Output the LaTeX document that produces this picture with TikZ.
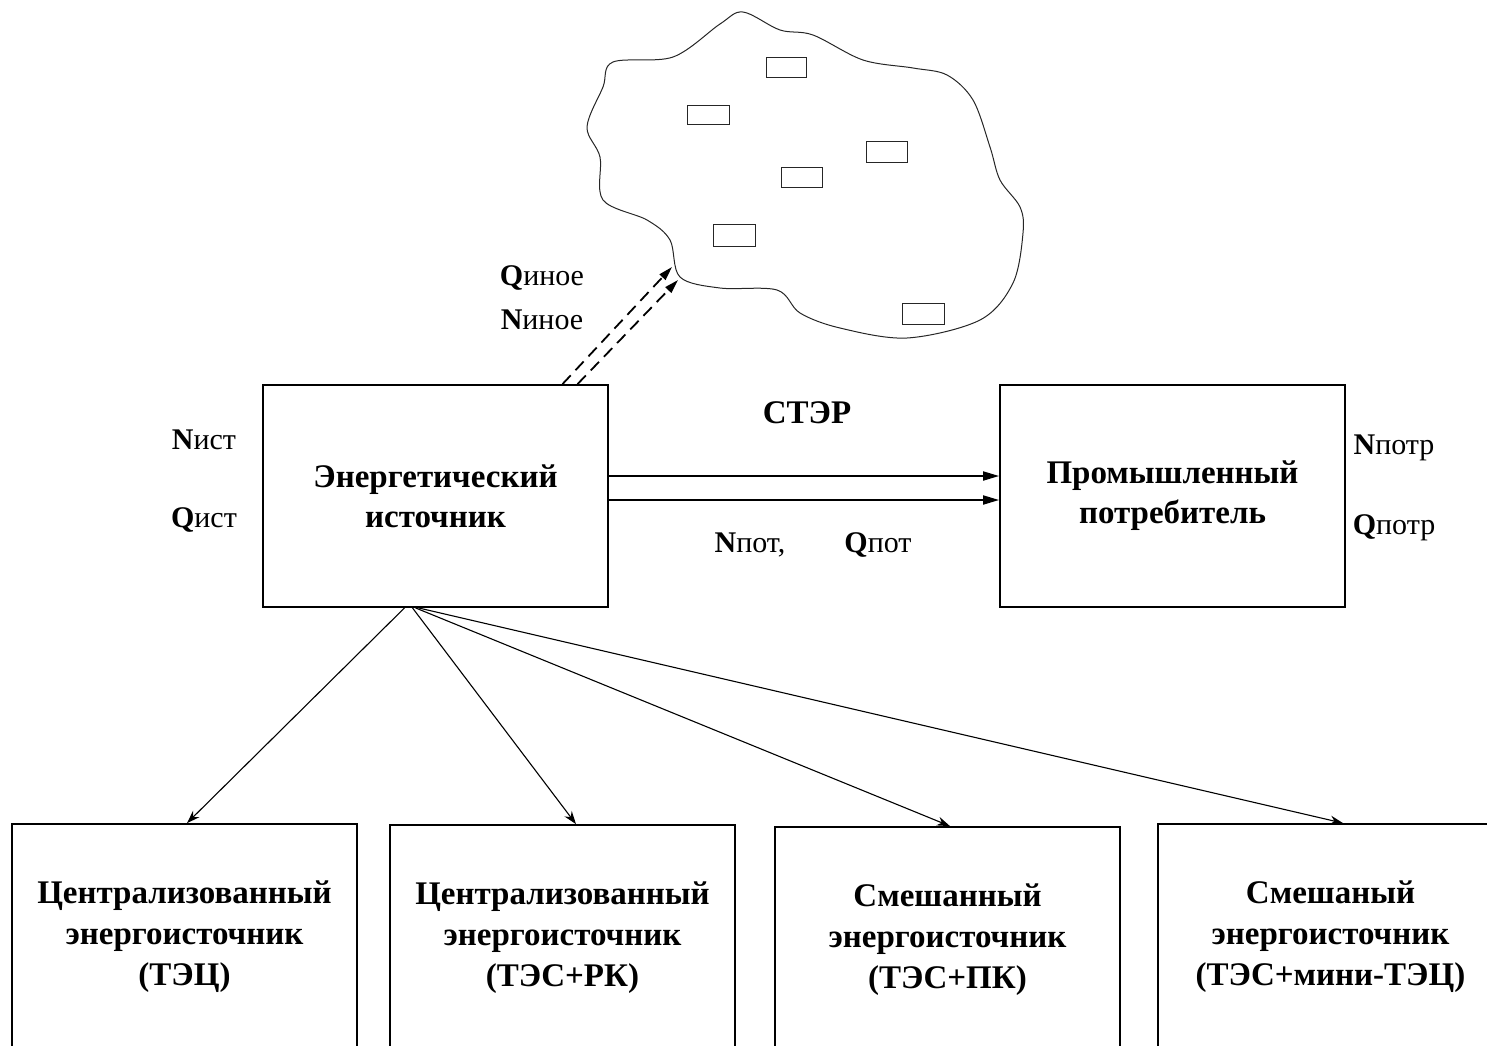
\documentclass[tikz,border=0pt]{standalone}
\usepackage{fontspec}
\setmainfont{Liberation Serif}
\usetikzlibrary{arrows.meta}
\begin{document}
\begin{tikzpicture}[x=1pt,y=-1pt,
  box/.style={draw,line width=1.8pt,minimum width=345pt,minimum height=222pt,inner sep=0pt,align=center,font=\fontsize{33}{40}\selectfont\bfseries},
  lowbox/.style={box,minimum height=226pt,font=\fontsize{33}{41}\selectfont\bfseries},
  lbl/.style={inner sep=0pt,font=\fontsize{30}{34}\selectfont},
  flow/.style={line width=1.8pt,-{Triangle[length=16pt,width=9pt]}},
  dflow/.style={line width=1.8pt,dash pattern=on 12pt off 7pt,-{Triangle[length=14pt,width=8pt]}},
  branch/.style={line width=1.1pt,-{Stealth[length=13pt,width=9pt]}},
  cloudline/.style={line width=1pt,draw=black!85},
  small/.style={draw=black!85,line width=1pt}]
\useasboundingbox (0,0) rectangle (1487,1045);
\clip (0,0) rectangle (1487,1045);
% cloud
\draw[cloudline] plot[smooth cycle,tension=0.55] coordinates {
 (743,12) (780,30) (813,35) (863,60) (913,68) (947,75) (973,100) (990,147)
 (1000,180) (1020,207) (1023,233) (1013,283) (980,320) (907,338) (840,328)
 (800,313) (777,290) (720,288) (680,277) (670,240) (647,220) (603,200)
 (600,157) (587,127) (603,87) (613,62) (673,57) (720,24)};
\draw[small] (766,57) rectangle (806,77);
\draw[small] (687,105) rectangle (729,124);
\draw[small] (866,141) rectangle (907,162);
\draw[small] (781,167) rectangle (822,187);
\draw[small] (713,224) rectangle (755,246);
\draw[small] (902,303) rectangle (944,324);
\coordinate (c1) at (672,267);
\coordinate (c2) at (678,280);
% main boxes
\node[box] (src) at (435.5,496) {Энергетический\\источник};
\node[box] (cons) at (1172.5,496) {Промышленный\\потребитель};
% bottom boxes
\node[lowbox] (b1) at (184.5,937) {Централизованный\\энергоисточник\\(ТЭЦ)};
\node[lowbox] (b2) at (562.5,938) {Централизованный\\энергоисточник\\(ТЭС+РК)};
\node[lowbox] (b3) at (947.5,940) {Смешанный\\энергоисточник\\(ТЭС+ПК)};
\node[lowbox] (b4) at (1330.5,937) {Смешаный\\энергоисточник\\(ТЭС+мини-ТЭЦ)};
% labels
\node[lbl] (nist) at (204,440) {\textbf{N}ист};
\node[lbl] (qist) at (204,520) {\textbf{Q}ист};
\node[lbl] (npotr) at (1394,448) {\textbf{N}потр};
\node[lbl] (qpotr) at (1394,528) {\textbf{Q}потр};
\node[lbl] (npot) at (750,545) {\textbf{N}пот,};
\node[lbl] (qpot) at (878,545) {\textbf{Q}пот};
\node[lbl] (qin) at (542,278) {\textbf{Q}иное};
\node[lbl] (nin) at (542,320) {\textbf{N}иное};
\node[inner sep=0pt,font=\fontsize{33}{36}\selectfont\bfseries] (ster) at (807,413) {СТЭР};
% connectors
\draw[flow] (src.east |- 0,476) -- (cons.west |- 0,476);
\draw[flow] (src.east |- 0,500) -- (cons.west |- 0,500);
\draw[dflow] ([xshift=-0.5pt]src.north -| 563,0) -- (c1);
\draw[dflow] ([xshift=-0.5pt]src.north -| 578,0) -- (c2);
\draw[branch] ([xshift=-31pt]src.south) -- ([xshift=2.5pt]b1.north);
\draw[branch] ([xshift=-23pt]src.south) -- ([xshift=13.5pt]b2.north);
\draw[branch] ([xshift=-20pt]src.south) -- ([xshift=2.5pt]b3.north);
\draw[branch] ([xshift=-17pt]src.south) -- ([xshift=12.5pt]b4.north);
\end{tikzpicture}
\end{document}
